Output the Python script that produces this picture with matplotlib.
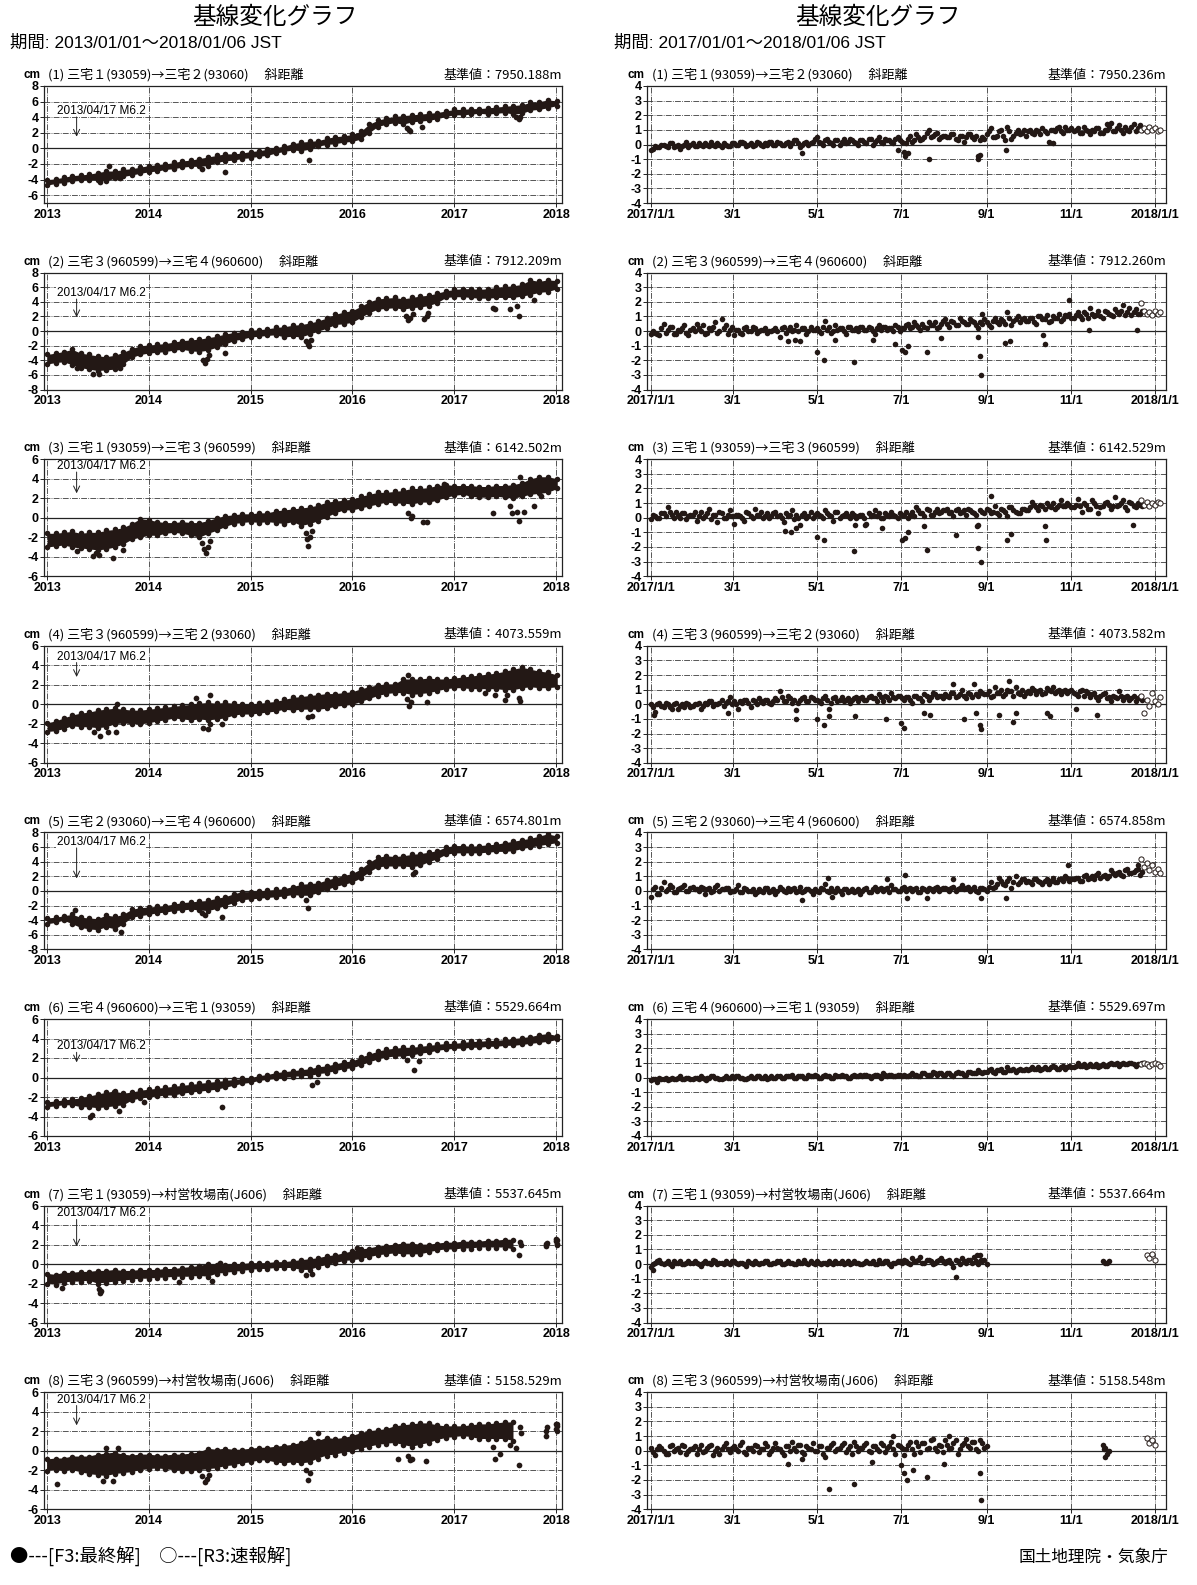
import datetime as dt
import numpy as np
import matplotlib
matplotlib.use("Agg")
import matplotlib.pyplot as plt
from matplotlib import font_manager

# ---------------- fonts ----------------
_names = {f.name for f in font_manager.fontManager.ttflist}
NARROW = 'Liberation Sans Narrow' if 'Liberation Sans Narrow' in _names else 'Liberation Sans'
JP = 'Noto Sans CJK JP'
plt.rcParams['font.family'] = [NARROW, JP, 'DejaVu Sans']
plt.rcParams['axes.unicode_minus'] = False

INK = '#231815'

# ---------------- DATA ----------------
left_titles = ['(1) 三宅１(93059)→三宅２(93060)　 斜距離', '(2) 三宅３(960599)→三宅４(960600)　 斜距離',
               '(3) 三宅１(93059)→三宅３(960599)　 斜距離', '(4) 三宅３(960599)→三宅２(93060)　 斜距離',
               '(5) 三宅２(93060)→三宅４(960600)　 斜距離', '(6) 三宅４(960600)→三宅１(93059)　 斜距離',
               '(7) 三宅１(93059)→村営牧場南(J606)　 斜距離', '(8) 三宅３(960599)→村営牧場南(J606)　 斜距離']
left_base = ['7950.188', '7912.209', '6142.502', '4073.559', '6574.801', '5529.664', '5537.645', '5158.529']
right_base = ['7950.236', '7912.260', '6142.529', '4073.582', '6574.858', '5529.697', '5537.664', '5158.548']
left_ylim = [(-7, 8), (-8, 8), (-6, 6), (-6, 6), (-8, 8), (-6, 6), (-6, 6), (-6, 6)]
year_ticks = ['2013', '2014', '2015', '2016', '2017', '2018']
month_ticks = ['2017/1/1', '3/1', '5/1', '7/1', '9/1', '11/1', '2018/1/1']
eq_label = '2013/04/17 M6.2'
eq_text_y = [4.8, 5.2, 5.3, 4.9, 6.7, 3.2, 5.2, 5.25]
eq_arrow_end = [1.5, 1.9, 2.5, 2.8, 1.7, 1.55, 1.8, 2.6]

nan = np.nan
# monthly band (2013-01 ... 2018-01): lower / upper envelope of the dense daily points
L1_lo = [-4.7, -4.5, -4.4, -4.2, -4.1, -4.0, -4.1, -4.2, -3.8, -3.6, -3.4, -3.2,
         -3.0, -2.9, -2.7, -2.6, -2.4, -2.3, -2.3, -2.2, -1.8, -1.6, -1.5, -1.3,
         -1.2, -1.0, -0.9, -0.6, -0.4, -0.2, -0.3, -0.1, 0.3, 0.5, 0.6, 0.8,
         0.9, 1.2, 2.0, 2.8, 3.1, 3.3, 3.1, 3.4, 3.5, 3.6, 3.8, 4.1,
         4.3, 4.3, 4.4, 4.5, 4.4, 4.5, 4.6, 4.4, 4.5, 4.9, 5.0, 5.2, 5.5]
L1_hi = [-4.0, -3.9, -3.7, -3.5, -3.4, -3.3, -3.1, -2.9, -2.9, -2.7, -2.6, -2.4,
         -2.2, -2.1, -2.0, -1.8, -1.6, -1.5, -1.3, -1.1, -0.9, -0.7, -0.7, -0.6,
         -0.4, -0.3, -0.1, 0.1, 0.3, 0.6, 0.8, 0.9, 1.0, 1.3, 1.5, 1.6,
         1.8, 2.2, 3.1, 3.6, 3.9, 4.1, 4.2, 4.3, 4.4, 4.5, 4.6, 4.8,
         5.0, 5.0, 5.1, 5.1, 5.2, 5.3, 5.4, 5.5, 5.6, 5.9, 6.0, 6.2, 6.1]
L2_lo = [-4.5, -4.3, -4.2, -4.6, -5.0, -5.2, -5.4, -5.3, -5.2, -4.5, -3.6, -3.2,
         -3.0, -2.9, -2.8, -2.6, -2.5, -2.7, -2.8, -2.6, -2.2, -1.8, -1.3, -1.1,
         -0.8, -0.7, -0.6, -0.5, -0.8, -0.7, -0.8, -0.4, 0.0, 0.4, 0.9, 1.0,
         1.2, 1.9, 2.5, 3.0, 3.1, 3.2, 3.0, 3.2, 3.3, 3.5, 3.9, 4.6,
         4.7, 4.7, 4.6, 4.5, 4.5, 4.6, 4.6, 4.6, 4.8, 5.0, 5.3, 5.4, 5.8]
L2_hi = [-3.2, -3.0, -2.8, -2.5, -3.0, -3.2, -3.4, -3.5, -3.3, -2.9, -2.4, -2.0,
         -1.9, -1.8, -1.7, -1.5, -1.3, -1.2, -1.1, -0.9, -0.7, -0.4, -0.2, -0.1,
         0.1, 0.2, 0.3, 0.5, 0.6, 0.8, 0.9, 1.1, 1.4, 1.8, 2.3, 2.6,
         2.8, 3.4, 4.0, 4.4, 4.5, 4.6, 4.4, 4.6, 4.8, 4.9, 5.2, 5.5,
         5.7, 5.8, 5.8, 5.7, 5.8, 6.0, 6.1, 6.2, 6.4, 7.0, 6.8, 7.0, 6.9]
L3_lo = [-3.0, -2.9, -2.8, -3.0, -3.1, -3.2, -3.3, -3.2, -3.0, -2.7, -2.2, -2.0,
         -1.8, -1.8, -1.6, -1.5, -1.6, -1.8, -2.0, -1.6, -1.3, -0.9, -0.6, -0.5,
         -0.4, -0.5, -0.4, -0.5, -0.6, -0.4, -0.8, -0.6, -0.3, 0.1, 0.5, 0.8,
         0.8, 1.0, 1.2, 1.4, 1.6, 1.5, 1.5, 1.4, 1.6, 1.6, 1.8, 2.1,
         2.3, 2.4, 2.2, 2.1, 2.1, 2.2, 2.1, 2.0, 2.2, 2.4, 2.5, 2.6, 3.0]
L3_hi = [-1.6, -1.6, -1.5, -1.4, -1.6, -1.5, -1.5, -1.3, -1.2, -1.0, -0.6, -0.1,
         -0.2, -0.4, -0.5, -0.5, -0.4, -0.5, -0.5, -0.3, 0.0, 0.2, 0.3, 0.4,
         0.4, 0.5, 0.5, 0.7, 0.8, 0.9, 1.0, 1.1, 1.3, 1.6, 1.7, 1.8,
         1.9, 2.2, 2.4, 2.6, 2.6, 2.7, 2.8, 3.0, 3.0, 3.1, 3.3, 3.4,
         3.3, 3.3, 3.3, 3.2, 3.2, 3.3, 3.3, 3.4, 3.6, 4.0, 4.2, 4.2, 4.0]
L4_lo = [-2.8, -2.7, -2.5, -2.2, -2.3, -2.3, -2.4, -2.3, -2.0, -1.9, -2.0, -2.0,
         -1.9, -1.7, -1.6, -1.4, -1.5, -1.6, -1.5, -1.6, -1.5, -1.4, -1.1, -1.0,
         -1.0, -0.9, -0.8, -0.7, -0.5, -0.6, -0.5, -0.5, -0.5, -0.4, -0.2, -0.1,
         0.0, 0.3, 0.6, 0.9, 1.1, 1.2, 1.2, 1.0, 1.1, 1.2, 1.4, 1.6,
         1.7, 1.7, 1.6, 1.6, 1.6, 1.6, 1.5, 1.5, 1.7, 1.8, 1.7, 1.7, 1.8]
L4_hi = [-1.9, -1.7, -1.4, -1.1, -0.9, -0.8, -0.6, -0.5, -0.4, -0.5, -0.6, -0.6,
         -0.5, -0.4, -0.3, -0.2, -0.1, 0.0, 0.1, 0.2, 0.1, 0.2, 0.1, 0.0,
         0.0, 0.1, 0.2, 0.3, 0.5, 0.7, 0.8, 0.9, 1.0, 1.1, 1.1, 1.2,
         1.3, 1.6, 1.8, 2.0, 2.1, 2.1, 2.6, 2.6, 2.6, 2.7, 2.6, 2.6,
         2.7, 2.8, 2.9, 3.0, 3.1, 3.2, 3.4, 3.6, 3.8, 3.6, 3.4, 3.3, 3.0]
L5_lo = [-4.5, -4.3, -4.0, -4.5, -5.0, -5.2, -5.3, -4.9, -5.2, -4.5, -3.6, -3.4,
         -3.2, -3.0, -2.9, -2.7, -2.6, -2.5, -2.6, -2.7, -2.4, -2.0, -1.6, -1.2,
         -1.1, -1.0, -0.9, -0.8, -0.7, -0.5, -0.6, -0.6, -0.2, 0.2, 0.6, 0.9,
         1.2, 1.8, 2.6, 3.3, 3.4, 3.4, 3.4, 3.3, 3.5, 4.0, 4.4, 5.0,
         5.2, 5.2, 5.2, 5.2, 5.3, 5.4, 5.4, 5.5, 5.8, 6.0, 6.2, 6.4, 6.6]
L5_hi = [-3.7, -3.6, -3.4, -3.2, -3.6, -3.7, -3.8, -3.3, -3.5, -3.2, -2.5, -2.3,
         -2.2, -2.1, -2.0, -1.8, -1.6, -1.5, -1.4, -1.3, -1.0, -0.8, -0.4, -0.1,
         -0.1, 0.0, 0.1, 0.2, 0.3, 0.6, 0.9, 1.0, 1.1, 1.5, 1.8, 2.1,
         2.4, 3.0, 3.9, 4.6, 4.8, 4.7, 4.8, 5.0, 5.1, 5.3, 5.5, 6.0,
         6.2, 6.2, 6.1, 6.2, 6.3, 6.4, 6.6, 6.8, 7.0, 7.2, 7.5, 7.8, 7.5]
L6_lo = [-3.0, -2.9, -2.8, -2.8, -3.0, -3.0, -3.1, -3.0, -2.9, -2.8, -2.3, -2.1,
         -2.0, -1.9, -1.8, -1.8, -1.6, -1.5, -1.4, -1.3, -1.2, -1.0, -0.8, -0.6,
         -0.5, -0.3, -0.2, -0.1, 0.0, 0.1, 0.2, 0.2, 0.4, 0.5, 0.7, 0.9,
         1.0, 1.3, 1.6, 1.9, 2.1, 2.2, 2.2, 2.3, 2.5, 2.6, 2.8, 2.9,
         3.0, 3.0, 3.1, 3.1, 3.2, 3.2, 3.3, 3.3, 3.4, 3.5, 3.6, 3.7, 3.9]
L6_hi = [-2.5, -2.4, -2.3, -2.2, -2.1, -1.9, -1.7, -1.5, -1.4, -1.6, -1.5, -1.3,
         -1.2, -1.1, -1.0, -0.9, -0.8, -0.7, -0.6, -0.5, -0.4, -0.3, -0.2, -0.1,
         0.0, 0.2, 0.3, 0.5, 0.6, 0.7, 0.8, 0.9, 1.1, 1.2, 1.4, 1.6,
         1.7, 2.1, 2.4, 2.7, 2.9, 3.0, 3.1, 3.1, 3.2, 3.3, 3.4, 3.5,
         3.5, 3.6, 3.7, 3.7, 3.8, 3.8, 3.9, 4.0, 4.1, 4.2, 4.4, 4.5, 4.3]
L7_lo = [-2.0, -2.1, -1.9, -1.8, -1.8, -1.7, -2.0, -1.9, -1.8, -1.7, -1.6, -1.5,
         -1.5, -1.4, -1.4, -1.3, -1.3, -1.3, -1.2, -1.3, -1.0, -0.9, -0.8, -0.7,
         -0.6, -0.5, -0.5, -0.4, -0.4, -0.4, -0.6, -0.6, -0.3, -0.1, 0.1, 0.3,
         0.4, 0.5, 0.7, 0.9, 1.0, 1.1, 1.0, 1.0, 1.0, 1.2, 1.4, 1.5,
         1.5, 1.6, 1.6, 1.7, 1.7, 1.7, 1.7, 1.5, nan, nan, nan, nan, 2.0]
L7_hi = [-1.0, -1.1, -0.9, -0.9, -0.8, -0.8, -0.7, -0.7, -0.6, -0.7, -0.7, -0.6,
         -0.6, -0.6, -0.5, -0.5, -0.4, -0.3, -0.2, 0.0, -0.1, -0.1, 0.0, 0.0,
         0.1, 0.1, 0.1, 0.2, 0.2, 0.3, 0.4, 0.5, 0.6, 0.8, 0.9, 1.1,
         1.3, 1.5, 1.6, 1.8, 1.9, 2.0, 2.1, 2.1, 2.0, 2.0, 2.1, 2.2,
         2.2, 2.3, 2.3, 2.3, 2.4, 2.4, 2.5, 2.5, nan, nan, nan, nan, 2.5]
L8_lo = [-2.1, -2.0, -2.1, -2.0, -2.2, -2.4, -2.5, -2.6, -2.4, -2.3, -2.2, -2.0,
         -1.9, -1.8, -1.9, -2.0, -2.1, -2.1, -2.0, -1.9, -1.8, -1.6, -1.5, -1.3,
         -1.2, -1.0, -1.0, -1.2, -1.3, -1.2, -1.3, -1.2, -0.8, -0.5, -0.4, -0.2,
         0.0, 0.2, 0.4, 0.6, 0.7, 0.8, 0.6, 0.4, 0.6, 0.8, 1.1, 1.3,
         1.4, 1.5, 1.4, 1.2, 1.2, 1.2, 1.2, 1.0, nan, nan, nan, nan, 2.0]
L8_hi = [-0.9, -0.8, -0.8, -0.6, -0.6, -0.6, -0.4, -0.3, -0.2, -0.4, -0.5, -0.4,
         -0.4, -0.5, -0.5, -0.4, -0.4, -0.3, -0.2, 0.2, 0.1, 0.2, 0.1, 0.1,
         0.2, 0.3, 0.3, 0.4, 0.5, 0.6, 0.8, 1.2, 1.0, 1.3, 1.2, 1.3,
         1.5, 1.8, 2.0, 2.1, 2.2, 2.5, 2.6, 2.7, 2.8, 2.8, 2.6, 2.5,
         2.5, 2.5, 2.6, 2.7, 2.7, 2.8, 2.9, 2.9, nan, nan, nan, nan, 2.7]

# isolated points of the 2013-2018 series
L1_out = [('2014-10-01', -3.0), ('2015-07-31', -1.5), ('2016-09-06', 2.7), ('2016-07-27', 2.2),
          ('2016-07-15', 2.6), ('2016-07-22', 2.3), ('2017-08-10', 4.0), ('2017-08-20', 3.8),
          ('2017-08-26', 4.0), ('2013-08-10', -2.3), ('2013-09-20', -3.8), ('2013-07-10', -4.3),
          ('2014-07-12', -2.7)]
L2_out = [('2013-06-14', -5.9), ('2013-04-20', -5.1), ('2013-09-20', -5.1), ('2014-10-01', -3.0),
          ('2014-07-15', -4.0), ('2014-07-22', -4.4), ('2014-07-28', -3.8), ('2014-08-05', -3.3),
          ('2015-07-20', -1.4), ('2015-07-25', -1.8), ('2015-07-30', -2.0), ('2015-08-05', -1.2),
          ('2016-07-10', 2.0), ('2016-07-18', 1.5), ('2016-07-25', 1.8), ('2016-08-05', 2.3),
          ('2016-09-15', 1.7), ('2016-09-25', 2.0), ('2016-09-30', 2.5), ('2017-05-20', 3.1),
          ('2017-05-27', 3.0), ('2017-08-15', 3.4), ('2017-08-20', 2.1), ('2017-07-20', 3.0),
          ('2017-10-12', 4.2), ('2013-07-05', -5.8)]
L3_out = [('2013-04-20', -3.4), ('2013-06-14', -3.9), ('2013-08-26', -4.1), ('2013-10-01', -3.3),
          ('2013-07-05', -3.8), ('2013-06-25', -3.6), ('2014-07-10', -2.6), ('2014-07-18', -3.2),
          ('2014-07-25', -3.6), ('2014-08-02', -3.0), ('2014-08-10', -2.4), ('2015-07-18', -1.6),
          ('2015-07-22', -2.2), ('2015-07-27', -2.9), ('2015-08-01', -2.0), ('2015-08-10', -1.4),
          ('2016-07-20', 0.5), ('2016-07-28', 0.0), ('2016-08-03', 0.2), ('2016-09-10', -0.4),
          ('2016-09-24', -0.4), ('2017-05-20', 0.5), ('2017-07-20', 1.2), ('2017-07-25', 0.5),
          ('2017-08-15', 0.6), ('2017-08-22', -0.3), ('2017-09-06', 0.6), ('2017-10-12', 1.2),
          ('2017-11-06', 2.2), ('2017-08-26', 4.2), ('2016-11-25', 3.5)]
L4_out = [('2013-06-20', -2.8), ('2013-07-10', -3.3), ('2013-08-08', -2.8), ('2013-09-06', -2.8),
          ('2014-06-20', 0.6), ('2014-08-08', 1.0), ('2014-09-20', -2.0), ('2014-07-15', -2.4),
          ('2014-08-01', -2.5), ('2014-08-10', -2.0), ('2015-07-25', -1.3), ('2015-08-08', -1.2),
          ('2016-07-15', 0.5), ('2016-07-22', -0.2), ('2016-07-28', 0.2), ('2016-07-20', 3.0),
          ('2016-09-24', 0.2), ('2017-04-20', 1.2), ('2017-05-25', 1.0), ('2017-07-10', 1.0),
          ('2017-08-20', 0.6), ('2017-07-02', 0.4), ('2017-08-26', 0.3), ('2013-09-10', 0.0)]
L5_out = [('2013-09-24', -5.6), ('2014-07-20', -3.3), ('2014-07-12', -3.0), ('2014-09-20', -3.6),
          ('2015-07-27', -2.4), ('2015-07-20', -1.2), ('2016-08-05', 2.3), ('2016-08-12', 2.6),
          ('2013-04-10', -2.6)]
L6_out = [('2013-06-05', -4.0), ('2013-06-12', -3.8), ('2013-09-15', -3.4), ('2014-09-20', -3.0),
          ('2015-08-08', -0.8), ('2015-08-26', -0.5), ('2016-08-08', 0.8), ('2016-08-26', 1.7),
          ('2016-07-15', 1.8), ('2013-12-13', -2.5), ('2013-08-30', -1.5)]
L7_out = [('2013-02-24', -2.4), ('2013-07-05', -2.6), ('2013-07-10', -3.0), ('2013-07-15', -2.8),
          ('2014-08-15', -1.7), ('2014-04-20', -1.8), ('2014-09-13', 0.1), ('2016-01-19', 1.7),
          ('2015-07-20', -1.1), ('2015-08-08', -1.0), ('2017-08-20', 0.9), ('2017-08-25', 2.3),
          ('2017-08-28', 2.0), ('2017-11-24', 2.1), ('2017-11-26', 1.9), ('2017-11-28', 2.2),
          ('2017-12-30', 2.6), ('2018-01-01', 2.4), ('2018-01-03', 2.1)]
L8_out = [('2013-02-06', -3.4), ('2013-07-20', -3.1), ('2013-08-26', -3.1), ('2014-07-10', -2.6),
          ('2014-07-20', -3.2), ('2014-07-28', -2.9), ('2014-08-05', -2.5), ('2015-07-20', -2.0),
          ('2015-07-27', -3.0), ('2015-08-02', -2.3), ('2016-07-20', -0.5), ('2016-07-25', -1.0),
          ('2016-08-01', -0.8), ('2016-09-20', -1.1), ('2016-06-14', -0.8), ('2017-05-20', 0.4),
          ('2017-05-27', -0.8), ('2017-06-14', -0.3), ('2017-07-20', 0.6), ('2017-08-10', 0.3),
          ('2017-08-20', -1.5), ('2013-08-01', 0.3), ('2013-09-13', 0.3), ('2015-08-30', 1.8),
          ('2017-08-25', 2.4), ('2017-08-28', 1.8), ('2017-11-24', 1.5), ('2017-11-26', 2.0),
          ('2017-11-28', 2.4), ('2017-12-30', 2.7), ('2018-01-02', 2.2), ('2018-01-04', 2.5)]

# 2017 series, F3 final solutions: set a every 3 days from 2017-01-01, set b 1.5 days later (119 each)
R1_f3 = [-0.4, -0.1, -0.2, 0.0, -0.2, 0.1, -0.1, -0.3, 0.0, -0.2, 0.1,
         -0.1, 0.0, 0.1, -0.1, 0.0, 0.1, -0.2, 0.0, -0.1,
         0.1, 0.0, 0.2, -0.1, 0.1, 0.0, 0.1, -0.1, 0.0, 0.2,
         0.0, 0.1, 0.0, 0.2, 0.1, 0.3, -0.2, 0.1, 0.0, 0.2,
         0.5, 0.1, 0.3, 0.2, 0.0, 0.3, 0.2, 0.1, 0.4, 0.2, 0.0,
         0.3, 0.1, 0.4, 0.2, 0.5, 0.1, 0.3, 0.2, 0.4, 0.3,
         -0.5, 0.4, 0.2, 0.7, 0.3, 0.5, 1.0, 0.6, 0.8, 0.5,
         0.6, 0.5, 0.7, 0.3, 0.6, 0.5, 0.7, 0.4, -0.8, 0.5,
         0.7, 1.1, 0.5, 0.9, 0.6, 1.2, 0.4, 0.8, 0.7, 1.0,
         0.9, 0.8, 1.0, 0.7, 0.9, 0.2, 1.0, 1.1, 0.9, 1.2, 1.0,
         0.9, 1.1, 0.8, 1.0, 0.7, 0.9, 1.1, 0.8, 1.0, 1.5,
         0.9, 1.3, 0.8, 1.0, 1.2, 0.9, 1.3]
R1_f3b = [-0.3, -0.2, 0.0, -0.1, 0.1, -0.2, 0.0, -0.1, 0.2, 0.0, -0.1,
          0.1, -0.1, 0.0, 0.2, -0.1, 0.0, 0.1, -0.1, 0.1,
          0.0, 0.2, 0.1, 0.0, -0.1, 0.2, 0.0, 0.1, 0.2, 0.0,
          0.2, 0.0, 0.1, -0.1, 0.3, 0.1, 0.0, 0.2, 0.1, 0.4,
          0.2, 0.0, 0.4, 0.1, 0.3, 0.0, 0.4, 0.2, 0.3, 0.1, 0.3,
          0.2, 0.4, 0.0, 0.3, 0.2, 0.4, 0.3, 0.1, 0.5, 0.2,
          0.1, 0.6, 0.3, 0.5, 0.4, 0.8, 0.5, 0.7, 0.4, 0.6,
          0.5, 0.7, 0.4, 0.6, 0.2, 0.7, 0.5, 0.6, 0.3, 0.4,
          0.9, 0.5, 0.6, 1.0, 0.3, 0.9, 0.6, 1.0, 0.8, 0.6,
          1.0, 0.7, 0.9, 1.1, 0.8, 1.0, 0.9, 1.2, 0.8, 1.0, 1.1,
          1.0, 0.8, 1.2, 0.9, 1.0, 1.1, 0.8, 1.0, 1.2, 0.9,
          1.1, 1.0, 1.2, 0.9, 1.4, 1.1, 1.0]
R2_f3 = [-0.2, -0.1, -0.3, 0.5, 0.1, 0.3, -0.2, 0.0, 0.4, -0.3, 0.2,
         0.5, 0.0, -0.2, 0.2, 0.3, -0.1, 0.8, 0.4, 0.1,
         -0.3, 0.1, -0.2, 0.3, 0.0, 0.2, 0.0, 0.1, -0.1, 0.0,
         0.2, -0.4, 0.3, 0.1, 0.0, 0.4, -0.7, 0.2, 0.0, 0.1,
         0.2, -0.1, 0.7, 0.3, 0.0, 0.1, 0.2, -0.2, 0.3, 0.1, 0.0,
         0.3, 0.1, 0.2, -0.2, 0.4, 0.3, 0.1, 0.2, 0.4, 0.0,
         0.2, 0.5, 0.3, 0.4, 0.1, 0.3, 0.6, 0.4, 0.2, 0.5,
         0.8, 0.3, 0.6, 0.4, 0.7, 0.5, 0.8, 0.6, 0.2, 0.5,
         0.6, 0.3, 0.9, 0.5, 0.7, 1.3, 0.4, 0.8, 0.6, 0.9,
         0.7, 0.9, 0.5, 1.0, 0.8, 0.6, 1.0, 0.9, 0.7, 1.1, 1.2,
         0.9, 1.3, 0.8, 1.2, 1.6, 1.0, 1.4, 0.9, 1.3, 1.1,
         1.5, 1.2, 1.8, 1.3, 1.1, 1.5, 1.2]
R2_f3b = [0.0, -0.2, 0.2, -0.1, 0.3, -0.2, 0.1, 0.2, -0.1, 0.1, 0.0,
          0.2, 0.4, -0.1, 0.1, 0.6, 0.0, 0.2, -0.2, 0.3,
          0.1, -0.1, 0.2, 0.0, 0.3, -0.1, 0.1, 0.2, 0.0, 0.1,
          0.0, 0.2, -0.1, 0.3, 0.1, 0.0, 0.2, -0.2, 0.3, 0.1,
          0.0, 0.3, 0.1, -0.1, 0.4, 0.2, 0.0, 0.3, 0.1, 0.2, 0.3,
          0.1, 0.3, 0.0, 0.2, 0.1, 0.3, 0.2, 0.0, 0.3, 0.2,
          0.4, 0.2, 0.6, 0.3, 0.5, 0.2, 0.4, 0.6, 0.3, 0.7,
          0.5, 0.7, 0.4, 0.9, 0.6, 0.5, 0.7, 0.4, 0.6, 0.8,
          0.4, 0.7, 0.6, 0.8, 0.5, 0.9, 0.7, 1.0, 0.8, 0.7,
          0.9, 0.6, 1.0, 0.8, 1.1, 0.7, 0.9, 1.2, 0.8, 1.0, 0.9,
          1.1, 1.0, 1.3, 0.9, 1.2, 1.1, 1.0, 1.4, 1.2, 1.0,
          1.3, 1.4, 1.1, 1.6, 1.3, 1.2, 1.4]
R3_f3 = [-0.1, 0.1, 0.0, 0.3, 0.7, 0.2, 0.4, 0.0, 0.3, 0.1, 0.2,
         -0.2, 0.4, 0.1, 0.6, 0.2, -0.3, 0.3, 0.0, 0.5,
         -0.4, 0.2, 0.0, 0.4, 0.1, 0.6, 0.2, 0.0, 0.3, 0.1,
         0.4, 0.2, -0.3, 0.1, 0.5, 0.2, -0.5, 0.3, 0.1, 0.0,
         0.3, 0.1, 0.5, 0.2, -0.2, 0.4, 0.1, 0.3, 0.0, 0.2, 0.1,
         0.2, -0.4, 0.1, 0.5, 0.3, 0.0, 0.2, 0.4, 0.1, 0.3,
         0.2, 0.0, 0.4, 0.7, 0.3, 0.1, 0.5, 0.2, 0.6, 0.4,
         0.5, 0.3, 0.1, 0.6, 0.4, 0.2, 0.5, 0.3, -0.5, 0.4,
         0.6, 0.3, 0.8, 0.2, 0.5, 0.1, 0.7, 0.4, 0.3, 0.6,
         0.5, 1.1, 0.7, 0.9, 0.6, 0.8, 1.0, 0.7, 1.2, 0.8, 0.9,
         0.7, 1.3, 0.4, 0.9, 0.6, 1.0, 0.3, 0.8, 1.1, 0.6,
         1.4, 0.9, 1.2, 0.5, 1.0, 0.7, 0.9]
R3_f3b = [0.2, 0.0, 0.3, 0.1, 0.4, 0.0, 0.2, 0.3, -0.1, 0.2, 0.4,
          0.1, 0.0, 0.3, -0.1, 0.2, 0.4, 0.0, 0.2, 0.1,
          0.2, 0.1, -0.2, 0.3, 0.0, 0.2, 0.4, 0.1, 0.0, 0.3,
          0.1, 0.0, 0.3, 0.2, -0.1, 0.0, 0.2, 0.0, 0.4, 0.2,
          0.2, 0.0, 0.3, 0.1, 0.4, 0.0, 0.2, 0.1, 0.3, 0.0, 0.2,
          0.0, 0.3, 0.2, 0.1, 0.0, 0.3, 0.1, 0.2, 0.0, 0.2,
          0.4, 0.2, 0.1, 0.5, 0.3, 0.6, 0.2, 0.4, 0.3, 0.5,
          0.6, 0.4, 0.5, 0.3, 0.5, 0.6, 0.4, 0.2, 0.5, 0.3,
          0.5, 0.4, 0.3, 0.6, 0.4, 0.7, 0.5, 0.3, 0.6, 0.5,
          0.7, 0.9, 0.5, 0.8, 1.0, 0.7, 0.6, 0.9, 0.8, 1.0, 0.7,
          0.9, 0.8, 1.0, 0.6, 1.2, 0.8, 0.7, 1.0, 0.9, 0.8,
          0.8, 1.0, 0.7, 1.1, 0.8, 1.0, 0.8]
R4_f3 = [0.0, -0.5, 0.1, -0.2, 0.0, -0.3, 0.1, -0.1, -0.2, 0.0, -0.1,
         0.0, -0.3, 0.1, 0.2, -0.1, 0.0, 0.3, 0.1, 0.5,
         0.2, -0.3, 0.1, 0.3, -0.2, 0.2, 0.4, 0.1, 0.3, 0.0,
         0.4, 0.9, 0.2, 0.6, 0.1, -0.4, 0.3, 0.5, 0.2, 0.4,
         0.3, 0.1, 0.6, -0.3, 0.4, 0.2, 0.5, 0.3, 0.1, 0.4, 0.2,
         0.5, 0.3, 0.6, 0.4, 0.7, 0.2, 0.5, 0.8, 0.4, 0.6,
         0.3, 0.5, 0.1, 0.6, 0.4, 0.7, 0.3, 0.8, 0.5, 0.6,
         0.7, 0.5, 0.8, 0.6, 1.0, 0.4, 0.7, 1.4, 0.6, 0.8,
         0.7, 0.5, 1.2, 0.8, 0.6, 1.0, 0.9, 1.2, 0.7, 0.6,
         0.9, 1.1, 0.7, 1.0, 0.8, 1.0, 1.2, 0.9, 0.7, 1.0, 0.9,
         0.8, 0.6, 1.0, 0.9, 0.5, 0.8, 0.3, 0.7, 0.4, 0.2,
         0.5, 0.9, 0.3, 0.6, 0.4, 0.2, 0.5]
R4_f3b = [-0.2, 0.0, -0.1, 0.1, -0.2, 0.0, -0.3, 0.0, 0.1, -0.2, 0.0,
          0.1, -0.1, 0.0, 0.2, 0.0, 0.1, -0.1, 0.2, 0.0,
          0.0, 0.2, 0.3, 0.1, 0.3, 0.0, 0.2, 0.3, 0.1, 0.2,
          0.3, 0.5, 0.2, 0.4, 0.3, 0.1, 0.4, 0.2, 0.5, 0.3,
          0.2, 0.4, 0.3, 0.1, 0.5, 0.3, 0.2, 0.4, 0.3, 0.5, 0.4,
          0.3, 0.5, 0.4, 0.2, 0.5, 0.6, 0.3, 0.5, 0.6, 0.4,
          0.5, 0.3, 0.6, 0.4, 0.2, 0.6, 0.5, 0.7, 0.6, 0.4,
          0.6, 0.8, 0.5, 0.7, 0.6, 0.8, 0.5, 0.7, 0.9, 0.7,
          0.9, 0.6, 0.8, 1.0, 0.7, 0.9, 0.6, 0.8, 1.0, 0.8,
          0.8, 1.0, 0.9, 0.7, 1.1, 0.9, 0.8, 1.0, 0.9, 0.8, 1.0,
          0.7, 0.9, 0.6, 0.8, 0.7, 0.5, 0.6, 0.8, 0.5, 0.6,
          0.4, 0.6, 0.5, 0.3, 0.6, 0.4, 0.3]
R5_f3 = [-0.4, 0.3, -0.2, 0.6, 0.1, 0.3, -0.1, 0.2, 0.4, 0.0, 0.3,
         0.1, 0.3, -0.2, 0.2, 0.0, 0.4, 0.1, 0.2, -0.1,
         0.0, 0.4, -0.1, 0.1, 0.0, -0.2, 0.1, -0.1, 0.2, 0.0,
         -0.2, 0.3, 0.0, 0.2, 0.1, -0.1, 0.3, 0.0, 0.1, -0.2,
         0.0, 0.2, 0.5, -0.1, 0.0, 0.2, -0.2, 0.1, 0.0, -0.1, 0.1,
         0.0, 0.2, -0.1, 0.3, 0.1, 0.0, 0.2, 0.4, 0.1, 0.0,
         0.3, 0.1, 0.0, 0.2, -0.1, 0.1, 0.2, 0.0, 0.3, 0.1,
         0.2, 0.0, 0.3, 0.1, 0.4, 0.2, 0.0, 0.3, -0.1, 0.2,
         0.0, 0.6, 0.3, 0.9, 0.5, 0.7, 0.2, 1.0, 0.6, 0.8,
         0.7, 0.5, 0.8, 0.6, 0.7, 0.5, 0.9, 0.6, 0.8, 1.0, 0.7,
         0.8, 0.9, 0.7, 1.1, 0.9, 0.8, 1.2, 1.0, 0.9, 1.4,
         1.1, 1.3, 1.0, 1.5, 1.2, 1.4, 1.1]
R5_f3b = [0.1, -0.2, 0.2, 0.0, 0.4, -0.1, 0.1, 0.3, 0.0, 0.2, 0.1,
          0.0, 0.2, 0.1, -0.1, 0.3, 0.0, 0.1, 0.2, 0.0,
          0.1, -0.1, 0.2, 0.0, 0.1, -0.1, 0.0, 0.2, -0.1, 0.1,
          0.0, 0.1, -0.1, 0.0, 0.2, 0.0, -0.1, 0.1, 0.0, 0.1,
          -0.1, 0.1, 0.0, 0.2, -0.1, 0.0, 0.1, -0.1, 0.1, 0.0, -0.2,
          0.1, -0.1, 0.1, 0.0, 0.2, 0.1, -0.1, 0.1, 0.0, 0.2,
          0.0, 0.2, 0.1, -0.1, 0.2, 0.0, 0.1, 0.2, 0.0, 0.2,
          0.1, 0.2, 0.0, 0.2, 0.1, 0.3, 0.1, 0.0, 0.2, 0.1,
          0.3, 0.2, 0.5, 0.7, 0.4, 0.9, 0.6, 0.5, 0.8, 0.6,
          0.6, 0.8, 0.7, 0.5, 0.8, 0.7, 0.6, 0.8, 0.7, 0.9, 0.8,
          0.9, 0.7, 1.0, 0.8, 1.0, 1.1, 0.9, 1.1, 1.0, 1.2,
          1.2, 1.1, 1.4, 1.2, 1.3, 1.5, 1.3]
R6_f3 = [-0.2, -0.1, 0.0, -0.1, -0.2, 0.0, -0.1, 0.1, -0.1, 0.0, -0.1,
         0.0, 0.1, -0.1, 0.0, 0.1, 0.0, -0.1, 0.1, 0.0,
         0.0, 0.1, 0.0, -0.1, 0.1, 0.0, 0.1, 0.0, -0.1, 0.1,
         0.0, 0.1, 0.0, 0.1, 0.2, 0.0, 0.1, 0.0, 0.2, 0.1,
         0.1, 0.0, 0.2, 0.1, 0.0, 0.1, 0.2, 0.1, 0.0, 0.2, 0.1,
         0.1, 0.2, 0.0, 0.2, 0.1, 0.3, 0.1, 0.2, 0.1, 0.2,
         0.2, 0.1, 0.3, 0.2, 0.1, 0.3, 0.2, 0.4, 0.2, 0.3,
         0.2, 0.3, 0.1, 0.4, 0.3, 0.2, 0.4, 0.3, 0.5, 0.3,
         0.4, 0.6, 0.3, 0.5, 0.4, 0.7, 0.5, 0.4, 0.6, 0.5,
         0.5, 0.7, 0.6, 0.5, 0.7, 0.6, 0.8, 0.6, 0.7, 0.6, 0.8,
         0.7, 1.0, 0.8, 0.7, 0.9, 0.8, 0.7, 0.9, 0.8, 1.0,
         0.9, 0.8, 1.0, 0.9, 1.0, 0.8, 0.9]
R6_f3b = [-0.1, -0.2, -0.1, 0.0, -0.1, -0.1, 0.0, -0.1, 0.0, -0.1, 0.0,
          -0.1, 0.0, 0.0, 0.1, 0.0, -0.1, 0.0, 0.0, 0.1,
          0.1, 0.0, -0.1, 0.0, 0.0, 0.1, 0.0, 0.1, 0.0, 0.0,
          0.1, 0.0, 0.1, 0.1, 0.0, 0.1, 0.1, 0.0, 0.1, 0.2,
          0.0, 0.1, 0.1, 0.0, 0.2, 0.1, 0.1, 0.0, 0.1, 0.1, 0.2,
          0.2, 0.1, 0.1, 0.2, 0.0, 0.2, 0.2, 0.1, 0.2, 0.1,
          0.1, 0.2, 0.2, 0.1, 0.3, 0.2, 0.2, 0.3, 0.3, 0.2,
          0.3, 0.2, 0.3, 0.3, 0.2, 0.4, 0.3, 0.3, 0.4, 0.4,
          0.5, 0.4, 0.5, 0.6, 0.4, 0.5, 0.6, 0.5, 0.5, 0.6,
          0.6, 0.6, 0.7, 0.6, 0.6, 0.7, 0.7, 0.6, 0.8, 0.7, 0.7,
          0.8, 0.8, 0.9, 0.8, 0.8, 0.9, 0.8, 0.8, 0.9, 0.9,
          1.0, 0.9, 0.9, 1.0, 0.9, 0.9, 1.0]
R7_f3 = [-0.2, 0.1, 0.3, 0.0, 0.2, -0.1, 0.1, 0.2, 0.0, 0.2, 0.1,
         0.1, -0.1, 0.2, 0.1, 0.3, 0.0, 0.1, 0.2, 0.0,
         0.2, 0.0, 0.1, -0.1, 0.1, 0.2, 0.0, 0.1, 0.2, 0.0,
         0.1, 0.2, 0.0, 0.2, 0.1, 0.0, 0.1, 0.3, 0.0, 0.1,
         0.2, 0.0, 0.1, 0.2, 0.0, 0.1, 0.2, 0.1, 0.0, 0.2, 0.1,
         0.0, 0.2, 0.1, 0.0, 0.3, 0.1, 0.2, -0.1, 0.1, 0.2,
         0.3, 0.1, 0.4, 0.2, 0.5, 0.1, 0.3, 0.0, 0.2, 0.4,
         0.1, 0.3, -0.2, 0.2, 0.4, 0.1, 0.3, 0.5, 0.0, 0.2,
         0.0, nan, nan, nan, nan, nan, nan, nan, nan, nan,
         nan, nan, nan, nan, nan, nan, nan, nan, nan, nan, nan,
         nan, nan, nan, nan, nan, nan, nan, 0.2, 0.1, nan,
         nan, nan, nan, nan, nan, nan, nan]
R7_f3b = [0.0, 0.2, 0.1, 0.1, 0.0, 0.2, 0.1, 0.0, 0.1, 0.1, 0.2,
          0.0, 0.1, 0.1, 0.0, 0.2, 0.1, 0.0, 0.1, 0.2,
          0.1, 0.1, 0.0, 0.2, 0.0, 0.1, 0.1, 0.2, 0.0, 0.1,
          0.2, 0.0, 0.1, 0.1, 0.0, 0.2, 0.1, 0.1, 0.2, 0.0,
          0.1, 0.1, 0.0, 0.1, 0.2, 0.1, 0.0, 0.2, 0.1, 0.1, 0.0,
          0.1, 0.1, 0.2, 0.0, 0.1, 0.2, 0.0, 0.1, 0.2, 0.1,
          0.2, 0.0, 0.2, 0.3, 0.1, 0.3, 0.2, 0.1, 0.3, 0.2,
          0.2, 0.1, 0.3, 0.0, 0.2, 0.3, 0.1, 0.2, 0.6, 0.3,
          nan, nan, nan, nan, nan, nan, nan, nan, nan, nan,
          nan, nan, nan, nan, nan, nan, nan, nan, nan, nan, nan,
          nan, nan, nan, nan, nan, nan, nan, 0.1, 0.2, nan,
          nan, nan, nan, nan, nan, nan, nan]
R8_f3 = [0.2, -0.3, 0.3, 0.0, -0.2, 0.4, 0.1, -0.1, 0.3, 0.0, 0.2,
         -0.2, 0.4, 0.0, 0.3, -0.3, 0.2, 0.1, 0.5, -0.1,
         0.3, 0.0, 0.6, -0.2, 0.2, 0.4, -0.1, 0.1, 0.3, 0.0,
         0.5, 0.1, -0.3, 0.3, 0.6, 0.0, 0.4, -0.2, 0.2, 0.5,
         0.0, 0.3, -0.4, 0.2, 0.5, 0.1, 0.4, -0.1, 0.3, 0.6, 0.0,
         0.2, 0.5, -0.1, 0.3, 0.0, 0.4, 0.2, 0.6, -0.2, 0.3,
         -0.3, 0.4, 0.1, 0.6, -0.1, 0.5, 0.2, 0.8, 0.0, 0.3,
         0.7, 0.1, 0.5, -0.2, 0.4, 0.8, 0.2, 0.6, 0.0, 0.5,
         0.3, nan, nan, nan, nan, nan, nan, nan, nan, nan,
         nan, nan, nan, nan, nan, nan, nan, nan, nan, nan, nan,
         nan, nan, nan, nan, nan, nan, nan, 0.4, -0.2, nan,
         nan, nan, nan, nan, nan, nan, nan]
R8_f3b = [-0.1, 0.1, 0.2, -0.2, 0.3, 0.0, 0.2, 0.4, -0.2, 0.1, 0.3,
          0.1, -0.1, 0.2, 0.4, 0.0, -0.2, 0.3, 0.1, 0.2,
          0.1, 0.4, -0.1, 0.2, 0.0, 0.3, 0.1, 0.5, -0.2, 0.2,
          0.2, -0.1, 0.3, 0.0, 0.2, 0.4, -0.1, 0.3, 0.1, 0.0,
          0.3, -0.2, 0.2, 0.4, 0.0, 0.2, 0.5, 0.1, -0.2, 0.3, 0.2,
          0.4, 0.0, 0.3, 0.1, 0.5, -0.1, 0.3, 0.1, 0.4, 0.2,
          0.1, 0.6, -0.2, 0.3, 0.5, 0.1, 0.7, 0.2, 0.4, -0.1,
          0.4, 0.2, 0.7, 0.1, 0.5, 0.3, 0.6, 0.1, 0.7, 0.2,
          nan, nan, nan, nan, nan, nan, nan, nan, nan, nan,
          nan, nan, nan, nan, nan, nan, nan, nan, nan, nan, nan,
          nan, nan, nan, nan, nan, nan, nan, 0.2, 0.0, nan,
          nan, nan, nan, nan, nan, nan, nan]

# R3 quick solutions every 2 days from 2017-12-22 (8 values)
R1_r3 = [1.0, 1.1, 0.9, 1.2, 1.0, 1.1, 0.9, 1.0]
R2_r3 = [1.9, 1.4, 1.2, 1.3, 1.1, 1.4, 1.2, 1.3]
R3_r3 = [1.2, 0.9, 1.1, 0.8, 1.0, 0.9, 1.1, 1.0]
R4_r3 = [0.6, -0.6, 0.3, -0.1, 0.8, 0.2, 0.0, 0.5]
R5_r3 = [2.2, 1.6, 1.9, 1.4, 1.8, 1.3, 1.5, 1.2]
R6_r3 = [0.9, 1.0, 0.9, 0.8, 0.9, 1.0, 0.9, 0.8]
R7_r3 = [nan, nan, 0.6, 0.4, 0.7, 0.3, nan, nan]
R8_r3 = [nan, nan, 0.9, 0.5, 0.7, 0.4, nan, nan]

# isolated points of the 2017 series
R1_out = [('2017-07-04', -0.8), ('2017-07-06', -0.6), ('2017-07-21', -1.0), ('2017-08-26', -1.0),
          ('2017-08-27', -0.7), ('2017-09-15', -0.4), ('2017-06-29', -0.4), ('2017-04-20', -0.6),
          ('2017-10-19', 0.1), ('2017-11-27', 1.4)]
R2_out = [('2017-05-01', -1.4), ('2017-05-06', -2.0), ('2017-05-28', -2.1), ('2017-06-27', -0.9),
          ('2017-07-02', -1.3), ('2017-07-04', -1.4), ('2017-07-06', -1.0), ('2017-07-20', -1.4),
          ('2017-07-30', -0.5), ('2017-08-26', -0.4), ('2017-08-27', -1.7), ('2017-08-28', -3.0),
          ('2017-09-14', -0.8), ('2017-09-18', -0.7), ('2017-10-12', -0.3), ('2017-10-13', -0.9),
          ('2017-04-10', -0.7), ('2017-04-15', -0.6), ('2017-05-14', -0.6), ('2017-06-11', -0.6),
          ('2017-11-14', 0.1), ('2017-12-19', 0.1), ('2017-10-31', 2.1), ('2017-08-29', 1.2)]
R3_out = [('2017-04-08', -0.9), ('2017-04-12', -1.0), ('2017-04-16', -0.7), ('2017-05-01', -1.3),
          ('2017-05-06', -1.5), ('2017-05-28', -2.3), ('2017-06-17', -0.7), ('2017-07-02', -1.5),
          ('2017-07-04', -1.4), ('2017-07-06', -1.0), ('2017-07-20', -2.2), ('2017-07-18', -0.6),
          ('2017-08-10', -1.2), ('2017-08-26', -2.1), ('2017-08-28', -3.0), ('2017-08-25', -0.6),
          ('2017-09-04', 1.5), ('2017-09-16', -1.5), ('2017-09-19', -1.1), ('2017-10-13', -0.6),
          ('2017-10-14', -1.5), ('2017-12-16', -0.5), ('2017-05-29', -0.5), ('2017-06-05', -0.5)]
R4_out = [('2017-01-03', -0.7), ('2017-02-26', -0.6), ('2017-04-16', -1.0), ('2017-05-01', -1.0),
          ('2017-05-06', -1.4), ('2017-05-10', -0.8), ('2017-05-29', -0.8), ('2017-06-20', -1.0),
          ('2017-07-01', -1.3), ('2017-07-03', -1.6), ('2017-07-18', -0.6), ('2017-07-22', -0.7),
          ('2017-08-16', -1.0), ('2017-08-24', -0.6), ('2017-08-27', -1.4), ('2017-08-28', -1.7),
          ('2017-09-10', -0.7), ('2017-09-20', -1.2), ('2017-09-22', -0.6), ('2017-10-15', -0.6),
          ('2017-10-17', -0.8), ('2017-11-05', -0.3), ('2017-11-20', -0.7), ('2017-09-17', 1.6),
          ('2017-08-08', 1.4)]
R5_out = [('2017-04-20', -0.6), ('2017-05-09', 0.9), ('2017-06-21', 0.8), ('2017-07-04', 1.1),
          ('2017-07-05', -0.5), ('2017-07-20', -0.5), ('2017-08-28', -0.5), ('2017-09-15', -0.5),
          ('2017-10-30', 1.8), ('2017-12-20', 1.8), ('2017-08-08', 0.8), ('2017-05-12', -0.4)]
R6_out = [('2017-01-05', -0.3), ('2017-02-10', -0.2)]
R7_out = [('2017-08-10', -0.9), ('2017-01-02', -0.4), ('2017-08-25', 0.6), ('2017-08-28', 0.3)]
R8_out = [('2017-04-20', -0.6), ('2017-05-10', -2.6), ('2017-05-28', -2.3), ('2017-07-03', -1.5),
          ('2017-07-05', -2.0), ('2017-07-10', -1.3), ('2017-07-20', -1.8), ('2017-06-10', -0.8),
          ('2017-08-28', -3.4), ('2017-08-27', -1.5), ('2017-08-01', -0.9), ('2017-07-01', -1.0),
          ('2017-04-10', -0.9), ('2017-08-05', 1.0), ('2017-06-25', 1.0), ('2017-11-25', 0.1),
          ('2017-11-26', -0.4)]

# ---------------- build ----------------
band_lo = [L1_lo, L2_lo, L3_lo, L4_lo, L5_lo, L6_lo, L7_lo, L8_lo]
band_hi = [L1_hi, L2_hi, L3_hi, L4_hi, L5_hi, L6_hi, L7_hi, L8_hi]
left_out = [L1_out, L2_out, L3_out, L4_out, L5_out, L6_out, L7_out, L8_out]
right_f3 = [R1_f3, R2_f3, R3_f3, R4_f3, R5_f3, R6_f3, R7_f3, R8_f3]
right_f3b = [R1_f3b, R2_f3b, R3_f3b, R4_f3b, R5_f3b, R6_f3b, R7_f3b, R8_f3b]
right_r3 = [R1_r3, R2_r3, R3_r3, R4_r3, R5_r3, R6_r3, R7_r3, R8_r3]
right_out = [R1_out, R2_out, R3_out, R4_out, R5_out, R6_out, R7_out, R8_out]

band_dates = [dt.date(2013 + m // 12, m % 12 + 1, 1) for m in range(60)] + [dt.date(2018, 1, 5)]
r3_dates = [dt.date(2017, 12, 22) + dt.timedelta(days=2 * i) for i in range(8)]
year_pos = [dt.date(int(y), 1, 1) for y in year_ticks]
month_pos = [dt.date(2017, m, 1) for m in (1, 3, 5, 7, 9, 11)] + [dt.date(2018, 1, 1)]


def every3(vals, offset):
    return [dt.datetime(2017, 1, 1) + dt.timedelta(days=3 * i + offset) for i in range(len(vals))]


def d(s):
    return dt.datetime.strptime(s, '%Y-%m-%d').date()


W, H = 1197, 1585
fig = plt.figure(figsize=(W / 100, H / 100), dpi=100)


def fx(x):
    return x / W


def fy(y):
    return 1 - y / H


GRID = dict(color='#3a3a3a', lw=0.6, ls=(0, (7, 1.5, 1, 1.5)), zorder=1)
TICKFONT = dict(fontsize=9, fontweight='bold', family=[NARROW, JP])
PH = 117


def style_axes(ax, ylim, step, xlim, xpos, xlab):
    ax.set_xlim(xlim)
    ax.set_ylim(*ylim)
    yt = np.arange(np.ceil(ylim[0] / step) * step, ylim[1] + 1e-6, step)
    ax.set_yticks(yt)
    ax.set_yticklabels([f'{int(round(v))}' for v in yt], **TICKFONT)
    ax.set_xticks(xpos)
    ax.set_xticklabels(xlab, **TICKFONT)
    ax.tick_params(axis='both', length=3, width=0.7, pad=1, color='#222')
    for v in yt:
        if abs(v) < 1e-9:
            ax.axhline(0, color='#222', lw=0.9, zorder=1)
        elif ylim[0] + 1e-6 < v < ylim[1] - 1e-6:
            ax.axhline(v, **GRID)
    for t in xpos:
        ax.axvline(t, **GRID)
    for s in ax.spines.values():
        s.set_linewidth(0.9)
        s.set_color('#222')


HEAD = dict(fontsize=9.4, va='center', family=[JP])

for k in range(8):
    top = 86 + 186.6 * k
    # ---------- left: 2013-2018 ----------
    axL = fig.add_axes([fx(44), fy(top + PH), fx(562) - fx(44), PH / H])
    ylim = left_ylim[k]
    style_axes(axL, ylim, 2, (dt.date(2012, 12, 21), dt.date(2018, 1, 22)), year_pos, year_ticks)
    lo = np.array(band_lo[k], dtype=float)
    hi = np.array(band_hi[k], dtype=float)
    axL.fill_between(band_dates, lo, hi, color=INK, lw=0, zorder=3)
    axL.scatter(band_dates, lo, s=16, color=INK, lw=0, zorder=3)
    axL.scatter(band_dates, hi, s=16, color=INK, lw=0, zorder=3)
    axL.scatter([d(a) for a, _ in left_out[k]], [b for _, b in left_out[k]], s=17, color=INK, lw=0, zorder=3)
    # earthquake annotation
    ppu = PH / (ylim[1] - ylim[0])
    axL.text(dt.date(2013, 2, 4), eq_text_y[k], eq_label, fontsize=8.5, ha='left', va='center',
             family=[NARROW, JP], zorder=5,
             bbox=dict(facecolor='white', edgecolor='none', pad=0.3))
    eq = dt.date(2013, 4, 17)
    axL.annotate('', xy=(eq, eq_arrow_end[k]), xytext=(eq, eq_text_y[k] - 6 / ppu),
                 arrowprops=dict(arrowstyle='->,head_length=0.45,head_width=0.22', lw=0.7,
                                 color='#222', shrinkA=0, shrinkB=0), zorder=5)
    # panel header
    fig.text(fx(24), fy(top - 11), 'cm', fontsize=8.5, fontweight='bold', va='center', ha='left')
    fig.text(fx(48), fy(top - 11), left_titles[k], ha='left', **HEAD)
    fig.text(fx(562), fy(top - 11), '基準値：' + left_base[k] + 'm', ha='right', **HEAD)

    # ---------- right: 2017 ----------
    axR = fig.add_axes([fx(647), fy(top + PH), fx(1166) - fx(647), PH / H])
    style_axes(axR, (-4, 4), 1, (dt.date(2016, 12, 29), dt.date(2018, 1, 9)), month_pos, month_ticks)
    axR.scatter(every3(right_f3[k], 0), np.array(right_f3[k], dtype=float), s=16, color=INK, lw=0, zorder=3)
    axR.scatter(every3(right_f3b[k], 1.5), np.array(right_f3b[k], dtype=float), s=16, color=INK, lw=0, zorder=3)
    axR.scatter([d(a) for a, _ in right_out[k]], [b for _, b in right_out[k]], s=16, color=INK, lw=0, zorder=3)
    axR.scatter(r3_dates, np.array(right_r3[k], dtype=float), s=14, facecolor='white', edgecolor=INK,
                lw=0.7, zorder=3)
    fig.text(fx(628), fy(top - 11), 'cm', fontsize=8.5, fontweight='bold', va='center', ha='left')
    fig.text(fx(652), fy(top - 11), left_titles[k], ha='left', **HEAD)
    fig.text(fx(1166), fy(top - 11), '基準値：' + right_base[k] + 'm', ha='right', **HEAD)

# ---------- page texts ----------
for cx, x0, per in [(275, 10, '期間: 2013/01/01～2018/01/06 JST'), (878, 614, '期間: 2017/01/01～2018/01/06 JST')]:
    fig.text(fx(cx), fy(17), '基線変化グラフ', fontsize=17, ha='center', va='center', family=[JP])
    fig.text(fx(x0), fy(43), per, fontsize=12.5, ha='left', va='center')
fig.text(fx(10), fy(1557), '●---[F3:最終解]　○---[R3:速報解]', fontsize=13.2, ha='left', va='center',
         family=[JP])
fig.text(fx(1168), fy(1557), '国土地理院・気象庁', fontsize=12, ha='right', va='center', family=[JP])

fig.savefig('out.png', dpi=100)
